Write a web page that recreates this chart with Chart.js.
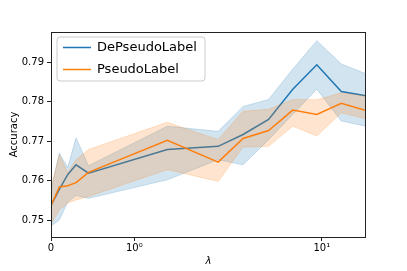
<!DOCTYPE html>
<html>
<head>
<meta charset="utf-8">
<script src="https://cdn.jsdelivr.net/npm/chart.js@4/dist/chart.umd.min.js"></script>
<style>
  html, body { margin: 0; padding: 0; background: #fff; }
  #chart { display: block; }
</style>
</head>
<body>
<canvas id="chart" width="407" height="271"></canvas>
<script>
// lambda values (x) and accuracy per method
const lambdas = [0, 0.1, 0.2, 0.3, 0.45, 1.5, 2.8, 3.8, 5.2, 7, 9.4, 12.7, 17.2];

const depMean  = [0.7537, 0.7578, 0.7615, 0.7640, 0.7619, 0.7679, 0.7687, 0.7717, 0.7755, 0.7832, 0.7894, 0.7826, 0.7815];
const depUpper = [0.7577, 0.7670, 0.7633, 0.7709, 0.7638, 0.7738, 0.7725, 0.7788, 0.7806, 0.7883, 0.7955, 0.7896, 0.7871];
const depLower = [0.7485, 0.7500, 0.7545, 0.7562, 0.7555, 0.7602, 0.7653, 0.7640, 0.7704, 0.7768, 0.7832, 0.7751, 0.7738];

const psMean  = [0.7537, 0.7584, 0.7587, 0.7595, 0.7621, 0.7702, 0.7647, 0.7707, 0.7727, 0.7779, 0.7768, 0.7796, 0.7778];
const psUpper = [0.7582, 0.7666, 0.7620, 0.7653, 0.7679, 0.7748, 0.7704, 0.7776, 0.7781, 0.7806, 0.7805, 0.7823, 0.7815];
const psLower = [0.7490, 0.7526, 0.7543, 0.7551, 0.7560, 0.7628, 0.7598, 0.7685, 0.7687, 0.7738, 0.7713, 0.7772, 0.7757];

const xTickVals = [0, 1, 10];
const xTickLabels = ['0', '10\u2070', '10\u00b9'];
const yTicks = [0.75, 0.76, 0.77, 0.78, 0.79];

const BLUE = '#1f77b4';
const ORANGE = '#ff7f0e';
const FONT = "'DejaVu Sans', sans-serif";

// symlog-like axis: linear below 1, log10 above
const LIN = 0.4 / 0.9;
function symlog(x) {
  return x <= 1 ? x * LIN : LIN + Math.log10(x);
}

function pts(ys) {
  return ys.map((y, i) => ({ x: symlog(lambdas[i]), y: y }));
}

// frame on all 4 sides + matplotlib-like legend box
const framePlugin = {
  id: 'frame',
  afterDraw(chart) {
    const { ctx, chartArea: a } = chart;
    ctx.save();
    ctx.strokeStyle = '#222';
    ctx.lineWidth = 1;
    ctx.strokeRect(a.left + 0.5, a.top + 0.5, a.right - a.left - 1, a.bottom - a.top);

    // legend
    const items = chart.data.datasets.filter(d => d.inLegend);
    const x = 57, y = 37, w = 148, h = 44, r = 3;
    ctx.beginPath();
    ctx.moveTo(x + r, y);
    ctx.arcTo(x + w, y, x + w, y + h, r);
    ctx.arcTo(x + w, y + h, x, y + h, r);
    ctx.arcTo(x, y + h, x, y, r);
    ctx.arcTo(x, y, x + w, y, r);
    ctx.closePath();
    ctx.fillStyle = 'rgba(255,255,255,0.8)';
    ctx.fill();
    ctx.strokeStyle = '#cccccc';
    ctx.stroke();

    ctx.font = '13px ' + FONT;
    ctx.textBaseline = 'middle';
    ctx.fillStyle = '#000';
    items.forEach((d, i) => {
      const ly = 47.5 + i * 22;
      ctx.beginPath();
      ctx.moveTo(63, ly);
      ctx.lineTo(91, ly);
      ctx.strokeStyle = d.borderColor;
      ctx.lineWidth = 1.5;
      ctx.stroke();
      ctx.fillText(d.label, 97, ly);
    });
    ctx.restore();
  }
};

new Chart(document.getElementById('chart'), {
  type: 'line',
  data: {
    datasets: [
      { label: 'DePseudoLabel', inLegend: true, data: pts(depMean), borderColor: BLUE, borderWidth: 1.5, order: 4 },
      { label: 'dep upper', data: pts(depUpper), borderColor: 'rgba(31,119,180,0.2)', borderWidth: 1,
        backgroundColor: 'rgba(31,119,180,0.2)', fill: { target: 2 }, order: 3 },
      { label: 'dep lower', data: pts(depLower), borderColor: 'rgba(31,119,180,0.2)', borderWidth: 1, order: 3 },
      { label: 'PseudoLabel', inLegend: true, data: pts(psMean), borderColor: ORANGE, borderWidth: 1.5, order: 2 },
      { label: 'ps upper', data: pts(psUpper), borderColor: 'rgba(255,127,14,0.2)', borderWidth: 1,
        backgroundColor: 'rgba(255,127,14,0.2)', fill: { target: 5 }, order: 1 },
      { label: 'ps lower', data: pts(psLower), borderColor: 'rgba(255,127,14,0.2)', borderWidth: 1, order: 1 }
    ]
  },
  options: {
    responsive: false,
    animation: false,
    devicePixelRatio: 1,
    elements: { point: { radius: 0 }, line: { tension: 0, fill: false } },
    layout: { padding: { top: 32, right: 41, left: 0, bottom: 0 } },
    plugins: { legend: { display: false }, tooltip: { enabled: false } },
    scales: {
      x: {
        type: 'linear',
        min: 0,
        max: symlog(lambdas[lambdas.length - 1]),
        afterBuildTicks(scale) {
          scale.ticks = xTickVals.map(v => ({ value: symlog(v) }));
        },
        afterFit(scale) { scale.height = 34; },
        ticks: {
          autoSkip: false, maxRotation: 0, padding: 1, color: '#000',
          font: { family: FONT, size: 10 },
          callback: (v, i) => xTickLabels[i]
        },
        grid: { drawOnChartArea: false, drawTicks: true, tickLength: 4, color: '#222' },
        border: { display: false },
        title: { display: true, text: '\u03bb', color: '#000', padding: { top: 0, bottom: 4 },
                 font: { family: FONT, size: 10, style: 'italic' } }
      },
      y: {
        min: 0.7457,
        max: 0.7977,
        afterBuildTicks(scale) {
          scale.ticks = yTicks.map(v => ({ value: v }));
        },
        afterFit(scale) { scale.width = 51; },
        ticks: {
          padding: 3, color: '#000',
          font: { family: FONT, size: 10 },
          callback: v => v.toFixed(2)
        },
        grid: { drawOnChartArea: false, drawTicks: true, tickLength: 4, color: '#222' },
        border: { display: false },
        title: { display: true, text: 'Accuracy', color: '#000', padding: { top: 8, bottom: 0 },
                 font: { family: FONT, size: 10 } }
      }
    }
  },
  plugins: [framePlugin]
});
</script>
</body>
</html>
